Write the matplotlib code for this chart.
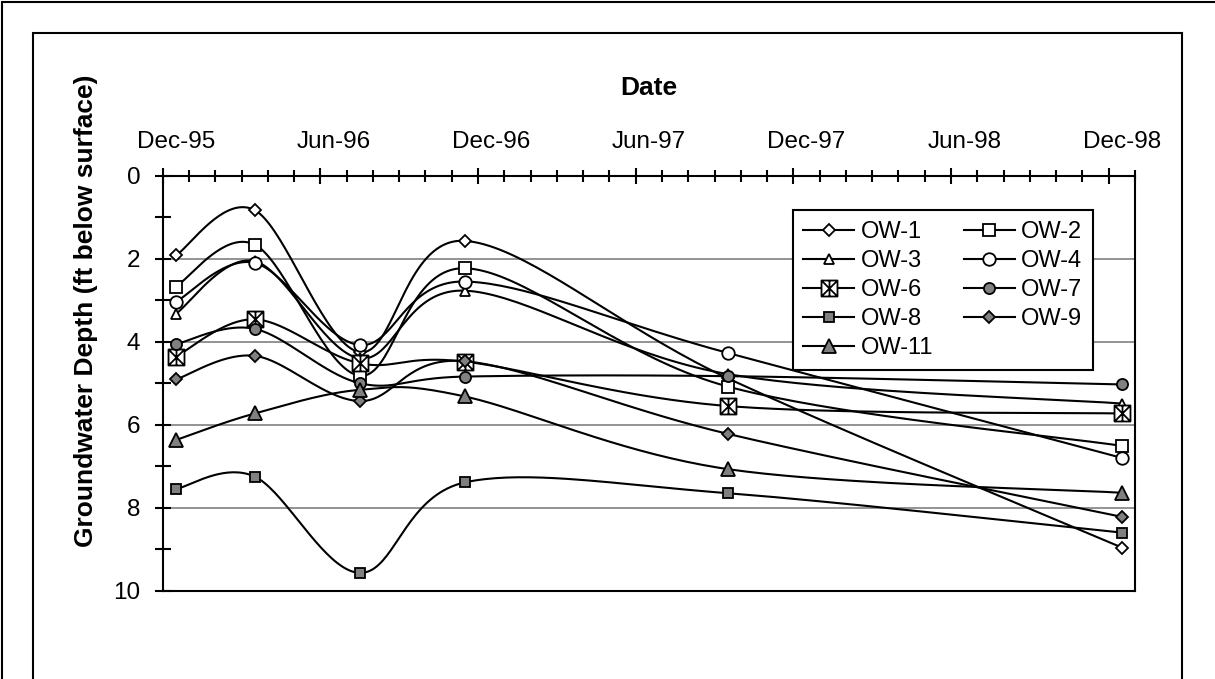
import numpy as np
import pandas as pd
import matplotlib
matplotlib.use('Agg')
import matplotlib.pyplot as plt
import matplotlib.transforms as mtransforms
from matplotlib.path import Path
from matplotlib.lines import Line2D
from matplotlib.patches import Rectangle

plt.rcParams['font.family'] = ['Liberation Sans', 'DejaVu Sans']

# ------------------------------------------------------------
# data: depth in ft below surface
# ------------------------------------------------------------
DATES = ['Dec-95', 'Mar-96', 'Jul-96', 'Nov-96', 'Sep-97', 'Dec-98']
TICK_LABELS = ['Dec-95', 'Jun-96', 'Dec-96', 'Jun-97', 'Dec-97', 'Jun-98', 'Dec-98']

ow1 = [1.92, 0.83, 4.25, 1.57, 4.88, 8.96]
ow2 = [2.67, 1.66, 4.82, 2.23, 5.08, 6.51]
ow3 = [3.33, 2.06, 4.40, 2.77, 4.78, 5.49]
ow4 = [3.04, 2.10, 4.08, 2.55, 4.27, 6.80]
ow6 = [4.36, 3.46, 4.52, 4.48, 5.55, 5.73]
ow7 = [4.06, 3.69, 5.00, 4.84, 4.83, 5.03]
ow8 = [7.55, 7.25, 9.57, 7.39, 7.65, 8.60]
ow9 = [4.91, 4.34, 5.43, 4.47, 6.22, 8.22]
ow11 = [6.37, 5.73, 5.16, 5.32, 7.07, 7.64]

SERIES = [('OW-1', ow1), ('OW-2', ow2), ('OW-3', ow3), ('OW-4', ow4), ('OW-6', ow6),
          ('OW-7', ow7), ('OW-8', ow8), ('OW-9', ow9), ('OW-11', ow11)]

# box with asterisk marker (OW-6)
box_star = Path(
    [(-1, -1), (1, -1), (1, 1), (-1, 1), (-1, -1),
     (-1, -1), (1, 1), (-1, 1), (1, -1), (0, -1), (0, 1)],
    [Path.MOVETO, Path.LINETO, Path.LINETO, Path.LINETO, Path.CLOSEPOLY,
     Path.MOVETO, Path.LINETO, Path.MOVETO, Path.LINETO, Path.MOVETO, Path.LINETO])

GRAY = '#808080'
STYLE = {
    'OW-1':  dict(marker='D', ms=6.5, mfc='white'),
    'OW-2':  dict(marker='s', ms=8, mfc='white'),
    'OW-3':  dict(marker='^', ms=7.5, mfc='white'),
    'OW-4':  dict(marker='o', ms=9, mfc='white'),
    'OW-6':  dict(marker=box_star, ms=11.5, mfc='white'),
    'OW-7':  dict(marker='o', ms=8, mfc=GRAY),
    'OW-8':  dict(marker='s', ms=7.5, mfc=GRAY),
    'OW-9':  dict(marker='D', ms=6.5, mfc=GRAY),
    'OW-11': dict(marker='^', ms=10, mfc=GRAY),
}


def month_index(label):
    t = pd.to_datetime(label, format='%b-%y')
    return (t.year - 1995) * 12 + t.month - 12


def excel_smooth(x, y, sx, sy, n=40):
    # bezier smoothing (Excel style), done in screen-like units
    P = np.column_stack([np.asarray(x, float) * sx, np.asarray(y, float) * sy])
    Q = np.vstack([P[0], P, P[-1]])
    t = np.linspace(0, 1, n)[1:, None]
    out = [P[0]]
    for i in range(len(P) - 1):
        p0, p1, p2, p3 = Q[i], Q[i + 1], Q[i + 2], Q[i + 3]
        c1 = p1 + (p2 - p0) / 6
        c2 = p2 - (p3 - p1) / 6
        seg = (1 - t) ** 3 * p1 + 3 * (1 - t) ** 2 * t * c1 + 3 * (1 - t) * t ** 2 * c2 + t ** 3 * p2
        out.extend(seg)
    out = np.array(out)
    return out[:, 0] / sx, out[:, 1] / sy


W_PX, H_PX = 1215, 679
fig = plt.figure(figsize=(W_PX / 100, H_PX / 100), dpi=100)
ax_l, ax_r, ax_t, ax_b = 162.7, 1135, 175.7, 590.7
ax = fig.add_axes([ax_l / W_PX, 1 - ax_b / H_PX, (ax_r - ax_l) / W_PX, (ax_b - ax_t) / H_PX])

N_MONTHS = 37
x = np.array([month_index(d) for d in DATES]) + 0.5
sx = (ax_r - ax_l) / N_MONTHS
sy = (ax_b - ax_t) / 10

for name, vals in SERIES:
    st = STYLE[name]
    xs, ys = excel_smooth(x, vals, sx, sy)
    ax.plot(xs, ys, color='black', lw=1.5, solid_capstyle='round')
    ax.plot(x, vals, ls='none', marker=st['marker'], ms=st['ms'],
            mfc=st['mfc'], mec='black', mew=1.3)

ax.set_xlim(0, N_MONTHS)
ax.set_ylim(10, 0)

# x axis on top, month ticks, labels centred in month slot
ax.xaxis.tick_top()
ax.set_xticks(np.arange(0, N_MONTHS, 6))
ax.set_xticklabels(TICK_LABELS)
ax.set_xticks(np.arange(0, N_MONTHS + 1, 1), minor=True)
ax.tick_params(axis='x', which='major', direction='inout', length=12, width=1.5,
               labelsize=17.5, pad=10.5, top=True, bottom=False)
ax.tick_params(axis='x', which='minor', direction='inout', length=9, width=1.5,
               top=True, bottom=False)
half_month = mtransforms.ScaledTranslation(0.5 * sx / 100, 0, fig.dpi_scale_trans)
for lab in ax.xaxis.get_majorticklabels():
    lab.set_transform(lab.get_transform() + half_month)

ax.set_yticks(np.arange(0, 11, 2))
ax.set_yticks(np.arange(1, 10, 2), minor=True)
ax.tick_params(axis='y', which='both', direction='inout', length=12, width=1.5,
               labelsize=17.5, pad=10)

ax.grid(axis='y', which='major', color=GRAY, lw=1.2)
ax.set_axisbelow(True)
for sp in ax.spines.values():
    sp.set_linewidth(1.5)

handles = [Line2D([], [], color='black', lw=1.5, marker=STYLE[n]['marker'], ms=STYLE[n]['ms'],
                  mfc=STYLE[n]['mfc'], mec='black', mew=1.3) for n, _ in SERIES]
names = [n for n, _ in SERIES]
order = [0, 2, 4, 6, 8, 1, 3, 5, 7]
leg = ax.legend([handles[i] for i in order], [names[i] for i in order], ncol=2,
                loc='upper left', bbox_to_anchor=(0.648, 0.917), borderaxespad=0,
                fancybox=False, framealpha=1, edgecolor='black', fontsize=17,
                handlelength=2.15, handletextpad=0.28, columnspacing=1.3,
                labelspacing=0.3, borderpad=0.45, numpoints=1)
leg.get_frame().set_linewidth(1.5)

fig.text((ax_l + ax_r) / 2 / W_PX, 1 - 88 / H_PX, 'Date', ha='center', va='center',
         fontsize=19, fontweight='bold')
fig.text(86 / W_PX, 1 - 311 / H_PX, 'Groundwater Depth (ft below surface)', rotation=90,
         ha='center', va='center', fontsize=19, fontweight='bold')

# page / chart frames
fig.patches.append(Rectangle((2 / W_PX, -0.2), 1.2, 1.2 - 2 / H_PX, transform=fig.transFigure,
                             fill=False, ec='black', lw=1.5))
fig.patches.append(Rectangle((33 / W_PX, -0.2), (1182 - 33) / W_PX, 1.2 - 33 / H_PX,
                             transform=fig.transFigure, fill=False, ec='black', lw=1.5))

fig.savefig('out.png', dpi=100)
